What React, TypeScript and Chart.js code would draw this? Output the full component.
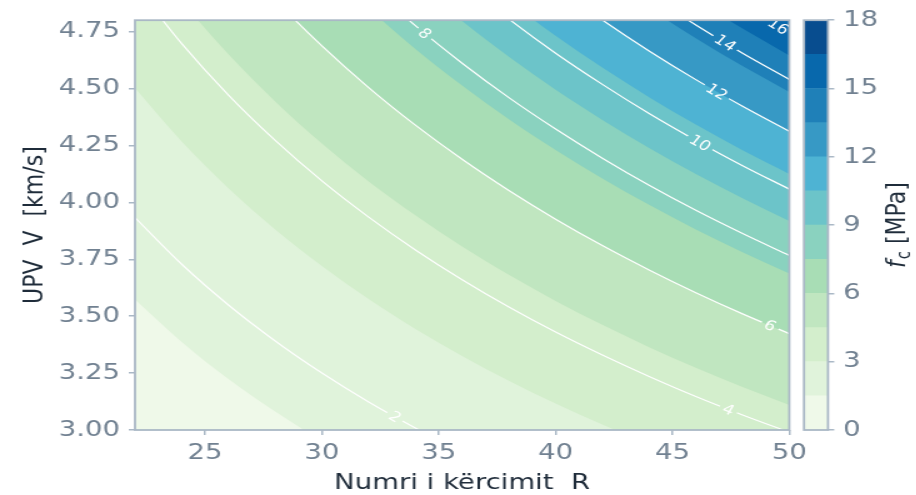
import React, { useEffect, useRef } from 'react';
import { Chart, registerables } from 'chart.js';

Chart.register(...registerables);

// ---------- data ----------
const R_GRID = [22, 24, 26, 28, 30, 32, 34, 36, 38, 40, 42, 44, 46, 48, 50];
const X_TICKS = [25, 30, 35, 40, 45, 50];
const Y_TICKS = [3.0, 3.25, 3.5, 3.75, 4.0, 4.25, 4.5, 4.75];
const CB_TICKS = [0, 3, 6, 9, 12, 15, 18];
const BAND_EDGES = [0, 1.5, 3, 4.5, 6, 7.5, 9, 10.5, 12, 13.5, 15, 16.5, 18];
const BAND_COLORS = ['#eff9e9', '#e0f3db', '#d3eecc', '#c0e6c0', '#a8ddb5', '#8ad2bf', '#6cc4c9', '#4eb3d3', '#3799c5', '#1f80b8', '#0868ac', '#084d8f'];

// UPV value V [km/s] of each contour level at R_GRID (null = far above the plot)
const V_1_5 = [3.573, 3.387, 3.224, 3.081, 2.952, 2.837, 2.734, 2.7, 2.7, 2.7, 2.7, 2.7, 2.7, 2.7, 2.7];
const V_2 = [3.933, 3.728, 3.549, 3.391, 3.25, 3.123, 3.009, 2.905, 2.81, 2.722, 2.7, 2.7, 2.7, 2.7, 2.7];
const V_3 = [4.502, 4.267, 4.062, 3.881, 3.72, 3.575, 3.444, 3.325, 3.216, 3.116, 3.024, 2.939, 2.859, 2.786, 2.716];
const V_4 = [4.955, 4.697, 4.471, 4.272, 4.094, 3.935, 3.791, 3.66, 3.54, 3.43, 3.329, 3.235, 3.147, 3.066, 2.99];
const V_4_5 = [5.154, 4.885, 4.65, 4.443, 4.258, 4.092, 3.943, 3.806, 3.682, 3.567, 3.462, 3.364, 3.273, 3.189, 3.11];
const V_6 = [null, 5.376, 5.118, 4.89, 4.687, 4.504, 4.339, 4.189, 4.052, 3.926, 3.81, 3.703, 3.603, 3.51, 3.423];
const V_7_5 = [null, null, null, 5.268, 5.049, 4.852, 4.674, 4.513, 4.365, 4.23, 4.105, 3.989, 3.881, 3.781, 3.687];
const V_8 = [null, null, null, 5.382, 5.158, 4.958, 4.776, 4.611, 4.46, 4.322, 4.194, 4.075, 3.965, 3.863, 3.767];
const V_9 = [null, null, null, null, 5.365, 5.156, 4.967, 4.796, 4.639, 4.494, 4.362, 4.239, 4.124, 4.018, 3.918];
const V_10 = [null, null, null, null, null, 5.341, 5.145, 4.967, 4.805, 4.655, 4.518, 4.39, 4.272, 4.161, 4.058];
const V_10_5 = [null, null, null, null, null, 5.428, 5.229, 5.049, 4.883, 4.732, 4.592, 4.462, 4.342, 4.229, 4.125];
const V_12 = [null, null, null, null, null, null, 5.467, 5.278, 5.105, 4.947, 4.801, 4.665, 4.539, 4.422, 4.312];
const V_13_5 = [null, null, null, null, null, null, null, 5.49, 5.31, 5.145, 4.993, 4.852, 4.721, 4.599, 4.485];
const V_14 = [null, null, null, null, null, null, null, null, 5.375, 5.208, 5.054, 4.911, 4.779, 4.655, 4.54];
const V_15 = [null, null, null, null, null, null, null, null, 5.5, 5.329, 5.171, 5.025, 4.89, 4.763, 4.645];
const V_16 = [null, null, null, null, null, null, null, null, null, 5.445, 5.284, 5.135, 4.996, 4.867, 4.746];

const FILL_LEVELS = [1.5, 3, 4.5, 6, 7.5, 9, 10.5, 12, 13.5, 15];
const FILL_V = [V_1_5, V_3, V_4_5, V_6, V_7_5, V_9, V_10_5, V_12, V_13_5, V_15];
const LINE_LEVELS = [2, 4, 6, 8, 10, 12, 14, 16];
const LINE_V = [V_2, V_4, V_6, V_8, V_10, V_12, V_14, V_16];
const LABEL_LEVELS = [2, 4, 6, 8, 10, 12, 14, 16];
const LABEL_R = [33.13, 47.4, 49.18, 34.41, 46.19, 46.9, 47.26, 49.54];

const X_TITLE = 'Numri i kërcimit  R';
const Y_TITLE = 'UPV  V  [km/s]';

// ---------- layout / style ----------
const SX = 1.25; // the reference is stretched horizontally
const H = 495;
const MAIN_CSS_W = 820;
const MAIN_W = Math.round(MAIN_CSS_W / SX);
const CB_CSS_LEFT = 800;
const CB_CSS_W = 115;
const CB_W = Math.round(CB_CSS_W / SX);
const FONT = "'DejaVu Sans', sans-serif";
const TICK_COLOR = '#718191';
const TITLE_COLOR = '#1f2c3a';
const SPINE_COLOR = '#aab8c6';
const LABEL_FONT = `14px ${FONT}`;

const PLOT_LEFT = 135 / SX;
const PLOT_RIGHT = 789.3 / SX;
const PLOT_TOP = 18.3;
const PLOT_BOTTOM = 430;

const pts = (vs: (number | null)[]) =>
  R_GRID.map((r, i) => ({ x: r, y: vs[i] })).filter((p) => p.y !== null);

function labelGeom(chart: any, k: number) {
  const xs = chart.scales.x;
  const ys = chart.scales.y;
  const lv = LABEL_LEVELS[k];
  const vs = LINE_V[LINE_LEVELS.indexOf(lv)];
  const r = LABEL_R[k];
  let i = 0;
  while (i < R_GRID.length - 2 && R_GRID[i + 1] < r) i++;
  const r0 = R_GRID[i], r1 = R_GRID[i + 1];
  const v0 = vs[i] as number, v1 = vs[i + 1] as number;
  const t = (r - r0) / (r1 - r0);
  const v = v0 + t * (v1 - v0);
  const x = xs.getPixelForValue(r);
  const y = ys.getPixelForValue(v);
  const ang = Math.atan2(
    ys.getPixelForValue(v1) - ys.getPixelForValue(v0),
    xs.getPixelForValue(r1) - xs.getPixelForValue(r0)
  );
  return { x, y, ang, text: String(lv) };
}

const bgPlugin = {
  id: 'bgBand',
  beforeDatasetsDraw(chart: any) {
    const { ctx, chartArea: a } = chart;
    ctx.save();
    ctx.fillStyle = BAND_COLORS[0];
    ctx.fillRect(a.left, a.top, a.right - a.left, a.bottom - a.top);
    ctx.restore();
  },
};

const gapPlugin = {
  id: 'labelGaps',
  beforeDatasetDraw(chart: any, args: any) {
    const ds = chart.data.datasets[args.index];
    if (!ds.label || !ds.label.startsWith('line')) return;
    const lv = Number(ds.label.split(' ')[1]);
    const { ctx, chartArea: a } = chart;
    ctx.save();
    ctx.font = LABEL_FONT;
    ctx.beginPath();
    ctx.rect(a.left - 2, a.top - 2, a.right - a.left + 4, a.bottom - a.top + 4);
    LABEL_LEVELS.forEach((l, k) => {
      if (l !== lv) return;
      const g = labelGeom(chart, k);
      const w = ctx.measureText(g.text).width / 2 + 3;
      const h = 8;
      const c = Math.cos(g.ang), s = Math.sin(g.ang);
      const corners = [[-w, -h], [w, -h], [w, h], [-w, h]].map(([dx, dy]) => [
        g.x + dx * c - dy * s,
        g.y + dx * s + dy * c,
      ]);
      ctx.moveTo(corners[0][0], corners[0][1]);
      for (let j = 1; j < 4; j++) ctx.lineTo(corners[j][0], corners[j][1]);
      ctx.closePath();
    });
    ctx.clip('evenodd');
  },
  afterDatasetDraw(chart: any, args: any) {
    const ds = chart.data.datasets[args.index];
    if (!ds.label || !ds.label.startsWith('line')) return;
    chart.ctx.restore();
  },
};

const labelPlugin = {
  id: 'contourLabels',
  afterDatasetsDraw(chart: any) {
    const { ctx, chartArea: a } = chart;
    ctx.save();
    ctx.beginPath();
    ctx.rect(a.left, a.top, a.right - a.left, a.bottom - a.top);
    ctx.clip();
    ctx.font = LABEL_FONT;
    ctx.fillStyle = '#ffffff';
    ctx.textAlign = 'center';
    ctx.textBaseline = 'middle';
    LABEL_LEVELS.forEach((_, k) => {
      const g = labelGeom(chart, k);
      ctx.save();
      ctx.translate(g.x, g.y);
      ctx.rotate(g.ang);
      ctx.fillText(g.text, 0, 1);
      ctx.restore();
    });
    ctx.restore();
  },
};

const framePlugin = {
  id: 'frame',
  afterDraw(chart: any) {
    const { ctx, chartArea: a } = chart;
    ctx.save();
    ctx.strokeStyle = SPINE_COLOR;
    ctx.lineWidth = 1.8;
    ctx.strokeRect(a.left, a.top, a.right - a.left, a.bottom - a.top);
    ctx.restore();
  },
};

const cbLabelPlugin = {
  id: 'cbLabel',
  afterDraw(chart: any) {
    const { ctx, chartArea: a } = chart;
    const cx = (905 - CB_CSS_LEFT) / SX;
    const cy = (a.top + a.bottom) / 2;
    ctx.save();
    ctx.translate(cx, cy);
    ctx.rotate(-Math.PI / 2);
    const big = `22px ${FONT}`;
    const ital = `italic 22px ${FONT}`;
    const sub = `15px ${FONT}`;
    ctx.font = ital;
    const wf = ctx.measureText('f').width;
    ctx.font = sub;
    const wc = ctx.measureText('c').width;
    ctx.font = big;
    const wr = ctx.measureText(' [MPa]').width;
    const total = wf + 1 + wc + wr;
    let x = -total / 2;
    ctx.fillStyle = TITLE_COLOR;
    ctx.textAlign = 'left';
    ctx.textBaseline = 'alphabetic';
    ctx.font = ital;
    ctx.fillText('f', x, 0);
    x += wf + 1;
    ctx.font = sub;
    ctx.fillText('c', x, 4);
    x += wc;
    ctx.font = big;
    ctx.fillText(' [MPa]', x, 0);
    ctx.restore();
  },
};

export default function App() {
  const mainRef = useRef<HTMLCanvasElement>(null);
  const cbRef = useRef<HTMLCanvasElement>(null);

  useEffect(() => {
    const fillSets = FILL_LEVELS.map((lv, i) => ({
      label: `fill ${lv}`,
      data: pts(FILL_V[i]),
      fill: 'end',
      backgroundColor: BAND_COLORS[i + 1],
      borderColor: 'rgba(0,0,0,0)',
      borderWidth: 0,
      pointRadius: 0,
      cubicInterpolationMode: 'monotone',
      order: 100 - i,
      clip: 0,
    }));
    const lineSets = LINE_LEVELS.map((lv, i) => ({
      label: `line ${lv}`,
      data: pts(LINE_V[i]),
      fill: false,
      borderColor: '#ffffff',
      borderWidth: 1.2,
      pointRadius: 0,
      cubicInterpolationMode: 'monotone',
      order: 0,
      clip: 0,
    }));

    const main = new Chart(mainRef.current as HTMLCanvasElement, {
      type: 'line',
      data: { datasets: [...fillSets, ...lineSets] as any },
      options: {
        responsive: false,
        animation: false,
        devicePixelRatio: 1,
        events: [],
        layout: {
          padding: { left: 0, right: MAIN_W - PLOT_RIGHT, top: PLOT_TOP, bottom: 0 },
        },
        plugins: { legend: { display: false }, tooltip: { enabled: false }, title: { display: false } },
        scales: {
          x: {
            type: 'linear',
            min: 22,
            max: 50,
            afterBuildTicks: (axis: any) => {
              axis.ticks = X_TICKS.map((v) => ({ value: v }));
            },
            afterFit: (scale: any) => {
              scale.height = H - PLOT_BOTTOM;
            },
            ticks: {
              autoSkip: false,
              maxRotation: 0,
              padding: 5,
              color: TICK_COLOR,
              font: { family: FONT, size: 22 },
              callback: (v: any) => String(v),
            },
            grid: { display: true, drawOnChartArea: false, drawTicks: true, tickLength: 5, color: SPINE_COLOR, lineWidth: 1.5 },
            border: { display: false },
            title: {
              display: true,
              text: X_TITLE,
              color: TITLE_COLOR,
              font: { family: FONT, size: 22, lineHeight: 1 },
              padding: { top: 0, bottom: 1 },
            },
          },
          y: {
            type: 'linear',
            min: 3,
            max: 4.8,
            afterBuildTicks: (axis: any) => {
              axis.ticks = Y_TICKS.map((v) => ({ value: v }));
            },
            afterFit: (scale: any) => {
              scale.width = PLOT_LEFT;
            },
            ticks: {
              autoSkip: false,
              padding: 7,
              color: TICK_COLOR,
              font: { family: FONT, size: 22 },
              callback: (v: any) => Number(v).toFixed(2),
            },
            grid: { display: true, drawOnChartArea: false, drawTicks: true, tickLength: 5, color: SPINE_COLOR, lineWidth: 1.5 },
            border: { display: false },
            title: {
              display: true,
              text: Y_TITLE,
              color: TITLE_COLOR,
              font: { family: FONT, size: 22, lineHeight: 1 },
              padding: { top: 17, bottom: 0 },
            },
          },
        },
      } as any,
      plugins: [bgPlugin, gapPlugin, labelPlugin, framePlugin],
    });

    const cb = new Chart(cbRef.current as HTMLCanvasElement, {
      type: 'bar',
      data: {
        labels: [''],
        datasets: BAND_COLORS.map((col, i) => ({
          label: `${BAND_EDGES[i]}-${BAND_EDGES[i + 1]}`,
          data: [BAND_EDGES[i + 1] - BAND_EDGES[i]],
          backgroundColor: col,
          borderWidth: 0,
          barPercentage: 1,
          categoryPercentage: 1,
          stack: 'cb',
        })),
      },
      options: {
        responsive: false,
        animation: false,
        devicePixelRatio: 1,
        events: [],
        layout: { padding: { left: (804 - CB_CSS_LEFT) / SX, right: 0, top: 18.4, bottom: H - PLOT_BOTTOM } },
        plugins: { legend: { display: false }, tooltip: { enabled: false } },
        scales: {
          x: { display: false, stacked: true },
          y: {
            position: 'right',
            stacked: true,
            min: 0,
            max: 18,
            afterBuildTicks: (axis: any) => {
              axis.ticks = CB_TICKS.map((v) => ({ value: v }));
            },
            afterFit: (scale: any) => {
              scale.width = CB_W - (828 - CB_CSS_LEFT) / SX;
            },
            ticks: {
              padding: 7,
              color: TICK_COLOR,
              font: { family: FONT, size: 22 },
              callback: (v: any) => String(v),
            },
            grid: { display: true, drawOnChartArea: false, drawTicks: true, tickLength: 5, color: SPINE_COLOR, lineWidth: 1.5 },
            border: { display: false },
          },
        },
      } as any,
      plugins: [framePlugin, cbLabelPlugin],
    });

    return () => {
      main.destroy();
      cb.destroy();
    };
  }, []);

  return (
    <div style={{ position: 'fixed', left: 0, top: 0, width: 916, height: H, background: '#ffffff', overflow: 'hidden' }}>
      <canvas
        ref={mainRef}
        width={MAIN_W}
        height={H}
        style={{ position: 'absolute', left: 0, top: 0, width: MAIN_CSS_W, height: H }}
      />
      <canvas
        ref={cbRef}
        width={CB_W}
        height={H}
        style={{ position: 'absolute', left: CB_CSS_LEFT, top: 0, width: CB_CSS_W, height: H }}
      />
    </div>
  );
}
